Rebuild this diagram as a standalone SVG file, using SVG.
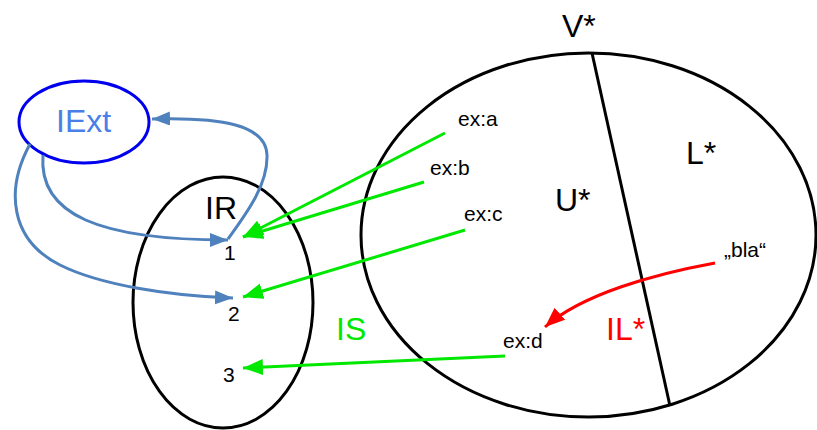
<svg xmlns="http://www.w3.org/2000/svg" width="817" height="430" viewBox="0 0 817 430">
<style>
text{font-family:"Liberation Sans",Arial,sans-serif}
.big{font-size:32px}
.sm{font-size:21px;fill:#000}
.shape{fill:none;stroke:#000;stroke-width:3}
.blue{fill:none;stroke:#4F81BD;stroke-width:3}
.green{fill:none;stroke:#00E800;stroke-width:3}
.red{fill:none;stroke:#FF0000;stroke-width:3}
</style>
<defs>
<marker id="ab" markerUnits="userSpaceOnUse" markerWidth="20" markerHeight="16" refX="18" refY="7" orient="auto"><path d="M0,0 L18,7 L0,14 Z" fill="#4F81BD"/></marker>
<marker id="ag" markerUnits="userSpaceOnUse" markerWidth="22" markerHeight="18" refX="20" refY="8" orient="auto"><path d="M0,0 L20,8 L0,16 Z" fill="#00E800"/></marker>
<marker id="ar" markerUnits="userSpaceOnUse" markerWidth="22" markerHeight="18" refX="20" refY="8" orient="auto"><path d="M0,0 L20,8 L0,16 Z" fill="#FF0000"/></marker>
</defs>
<g id="V">
<ellipse class="shape" cx="588.5" cy="235" rx="227.5" ry="182"/>
<line class="shape" x1="592" y1="53" x2="670" y2="406"/>
<text class="big" x="562" y="37">V*</text>
<text class="big" x="686" y="164">L*</text>
<text class="big" x="555" y="211">U*</text>
<text class="big" x="606" y="340" fill="#FF0000">IL*</text>
<text class="sm" x="458" y="126">ex:a</text>
<text class="sm" x="430" y="175">ex:b</text>
<text class="sm" x="464" y="221">ex:c</text>
<text class="sm" x="503" y="348">ex:d</text>
<text class="sm" x="724" y="257">„bla“</text>
</g>
<g id="IR">
<ellipse class="shape" cx="223" cy="302.5" rx="90" ry="125.5"/>
<text class="big" x="205" y="219">IR</text>
<text class="sm" x="224" y="260">1</text>
<text class="sm" x="228" y="321">2</text>
<text class="sm" x="223" y="382">3</text>
</g>
<g id="IExt">
<ellipse cx="84" cy="122" rx="65" ry="41" fill="none" stroke="#0000EE" stroke-width="3"/>
<text class="big" x="56" y="132" fill="#4A7FE8">IExt</text>
</g>
<g id="IS">
<text class="big" x="336" y="340" fill="#00E800">IS</text>
</g>
<g id="connectors">
<path class="blue" d="M228,239 C246,214 268,185 267,155 C266,125 222,117 152,119" marker-end="url(#ab)"/>
<path class="blue" d="M43,155 C38,215 100,240 228,240" marker-end="url(#ab)"/>
<path class="blue" d="M30,144 C5,190 10,240 60,265 C100,285 170,296 233,298" marker-end="url(#ab)"/>
<line class="green" x1="445" y1="133" x2="243" y2="237" marker-end="url(#ag)"/>
<line class="green" x1="424" y1="182" x2="243" y2="237" marker-end="url(#ag)"/>
<line class="green" x1="465" y1="230" x2="243" y2="297" marker-end="url(#ag)"/>
<line class="green" x1="505" y1="356" x2="243" y2="368" marker-end="url(#ag)"/>
<path class="red" d="M715,263 C655,274 582,294 545,327" marker-end="url(#ar)"/>
</g>
</svg>
